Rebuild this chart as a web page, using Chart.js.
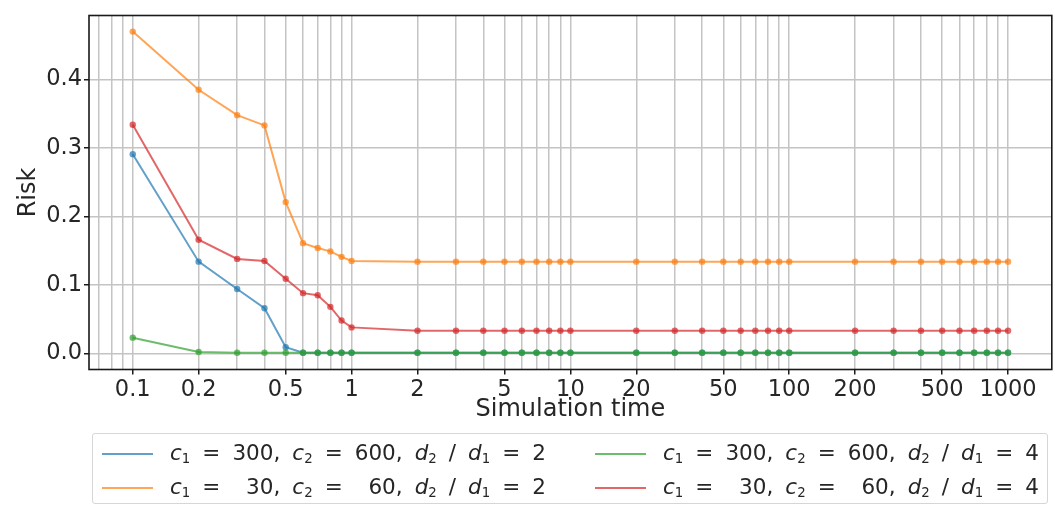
<!DOCTYPE html>
<html>
<head>
<meta charset="utf-8">
<script src="https://cdn.jsdelivr.net/npm/chart.js@4.4.0/dist/chart.umd.min.js"></script>
<style>
  html, body { margin: 0; padding: 0; background: #fff; }
  #wrap { position: relative; width: 1055px; height: 509px; }
  #legend {
    position: absolute; left: 92px; top: 433px; width: 956px; height: 71px;
    border: 1px solid #d6d6d6; border-radius: 3px; box-sizing: border-box;
    font-family: "DejaVu Sans", sans-serif; font-size: 21.5px; color: #262626;
  }
  .item { position: absolute; white-space: pre; line-height: 24px; word-spacing: 5.2px; }
  .swatch { position: absolute; width: 51px; height: 2px; }
  sub { font-size: 0.62em; vertical-align: -0.25em; }
</style>
</head>
<body>
<div id="wrap">
  <canvas id="c" width="1055" height="509"></canvas>
  <div id="legend"></div>
</div>
<script>
// ---- data ----
const simTimes = [0.1,0.2,0.3,0.4,0.5,0.6,0.7,0.8,0.9,1,2,3,4,5,6,7,8,9,10,20,30,40,50,60,70,80,90,100,200,300,400,500,600,700,800,900,1000];
const risk_c300_r2 = [0.291,0.134,0.094,0.066,0.009,0.001,0.001,0.001,0.001,0.001,0.001,0.001,0.001,0.001,0.001,0.001,0.001,0.001,0.001,0.001,0.001,0.001,0.001,0.001,0.001,0.001,0.001,0.001,0.001,0.001,0.001,0.001,0.001,0.001,0.001,0.001,0.001];
const risk_c30_r2  = [0.470,0.385,0.348,0.333,0.221,0.161,0.154,0.149,0.141,0.135,0.134,0.134,0.134,0.134,0.134,0.134,0.134,0.134,0.134,0.134,0.134,0.134,0.134,0.134,0.134,0.134,0.134,0.134,0.134,0.134,0.134,0.134,0.134,0.134,0.134,0.134,0.134];
const risk_c300_r4 = [0.023,0.002,0.001,0.001,0.001,0.001,0.001,0.001,0.001,0.001,0.001,0.001,0.001,0.001,0.001,0.001,0.001,0.001,0.001,0.001,0.001,0.001,0.001,0.001,0.001,0.001,0.001,0.001,0.001,0.001,0.001,0.001,0.001,0.001,0.001,0.001,0.001];
const risk_c30_r4  = [0.334,0.166,0.138,0.135,0.109,0.088,0.085,0.068,0.048,0.038,0.033,0.033,0.033,0.033,0.033,0.033,0.033,0.033,0.033,0.033,0.033,0.033,0.033,0.033,0.033,0.033,0.033,0.033,0.033,0.033,0.033,0.033,0.033,0.033,0.033,0.033,0.033];
const xTickLabels = [0.1,0.2,0.5,1,2,5,10,20,50,100,200,500,1000];
const xGridValues = [0.07,0.08,0.09,0.1,0.2,0.3,0.4,0.5,0.6,0.7,0.8,0.9,1,2,3,4,5,6,7,8,9,10,20,30,40,50,60,70,80,90,100,200,300,400,500,600,700,800,900,1000];
const yTickValues = [0.0,0.1,0.2,0.3,0.4];
const FS = '\u2007'; // figure space (digit width) for aligning "30" under "300"
const seriesLabels = [
  '<i>c</i><sub>1</sub> = 300, <i>c</i><sub>2</sub> = 600, <i>d</i><sub>2</sub> / <i>d</i><sub>1</sub> = 2',
  '<i>c</i><sub>1</sub> = ' + FS + '30, <i>c</i><sub>2</sub> = ' + FS + '60, <i>d</i><sub>2</sub> / <i>d</i><sub>1</sub> = 2',
  '<i>c</i><sub>1</sub> = 300, <i>c</i><sub>2</sub> = 600, <i>d</i><sub>2</sub> / <i>d</i><sub>1</sub> = 4',
  '<i>c</i><sub>1</sub> = ' + FS + '30, <i>c</i><sub>2</sub> = ' + FS + '60, <i>d</i><sub>2</sub> / <i>d</i><sub>1</sub> = 4'
];
const seriesColors = ['rgba(31,119,180,0.7)','rgba(255,127,14,0.7)','rgba(44,160,44,0.7)','rgba(214,39,40,0.7)'];

const toPts = arr => simTimes.map((t, i) => ({x: t, y: arr[i]}));
const mk = (idx, arr) => ({
  label: 'series' + idx,
  data: toPts(arr),
  borderColor: seriesColors[idx],
  backgroundColor: seriesColors[idx],
  borderWidth: 2,
  pointRadius: 3.2,
  pointHoverRadius: 3.2,
  pointStyle: 'circle',
  pointBorderWidth: 0,
  tension: 0,
  fill: false
});
// first dataset is drawn on top in Chart.js -> reverse of matplotlib order
const datasets = [mk(3, risk_c30_r4), mk(2, risk_c300_r4), mk(1, risk_c30_r2), mk(0, risk_c300_r2)];

const frame = {
  id: 'frame',
  afterDraw(chart) {
    const a = chart.chartArea, ctx = chart.ctx;
    ctx.save();
    ctx.strokeStyle = '#1a1a1a';
    ctx.lineWidth = 1.6;
    ctx.strokeRect(a.left, a.top, a.right - a.left, a.bottom - a.top);
    ctx.restore();
  }
};

const TICKFONT = {family: '"DejaVu Sans", sans-serif', size: 22.5};
const TITLEFONT = {family: '"DejaVu Sans", sans-serif', size: 24};
const isLabeled = v => xTickLabels.some(t => Math.abs(t - v) / t < 1e-6);

new Chart(document.getElementById('c'), {
  type: 'line',
  data: { datasets },
  plugins: [frame],
  options: {
    responsive: false,
    animation: false,
    layout: { padding: { left: 14, right: 2, top: 9, bottom: 85 } },
    plugins: { legend: { display: false }, tooltip: { enabled: false } },
    scales: {
      x: {
        type: 'logarithmic',
        min: 0.0631, max: 1585,
        afterBuildTicks: s => { s.ticks = xGridValues.map(v => ({value: v})); },
        afterFit: s => { s.height = 54.5; },
        ticks: {
          autoSkip: false, maxRotation: 0, padding: 2, color: '#262626', font: TICKFONT,
          callback: v => isLabeled(v) ? String(v) : ''
        },
        grid: {
          color: '#c4c4c4', lineWidth: 1.5, tickLength: 5,
          tickColor: ctx => (ctx.tick && isLabeled(ctx.tick.value)) ? '#1a1a1a' : 'rgba(0,0,0,0)'
        },
        border: { display: false },
        title: { display: true, text: 'Simulation time', color: '#262626', font: TITLEFONT, padding: 0 }
      },
      y: {
        type: 'linear',
        min: -0.0235, max: 0.4935,
        afterBuildTicks: s => { s.ticks = yTickValues.map(v => ({value: v})); },
        afterFit: s => { s.width = 75; },
        ticks: { padding: 2, color: '#262626', font: TICKFONT, callback: v => v.toFixed(1) },
        grid: { color: '#c4c4c4', lineWidth: 1.5, tickLength: 5, tickColor: '#1a1a1a' },
        border: { display: false },
        title: { display: true, text: 'Risk', color: '#262626', font: TITLEFONT, padding: 0 }
      }
    }
  }
});

// HTML legend (two columns, column-major like the reference)
const lg = document.getElementById('legend');
const pos = [
  {sx: 9, tx: 77, y: 7},
  {sx: 9, tx: 77, y: 41},
  {sx: 502, tx: 570, y: 7},
  {sx: 502, tx: 570, y: 41}
];
pos.forEach((p, i) => {
  const sw = document.createElement('div');
  sw.className = 'swatch';
  sw.style.left = p.sx + 'px';
  sw.style.top = (p.y + 12) + 'px';
  sw.style.background = seriesColors[i];
  lg.appendChild(sw);
  const t = document.createElement('div');
  t.className = 'item';
  t.style.left = p.tx + 'px';
  t.style.top = p.y + 'px';
  t.innerHTML = seriesLabels[i];
  lg.appendChild(t);
});
</script>
</body>
</html>
